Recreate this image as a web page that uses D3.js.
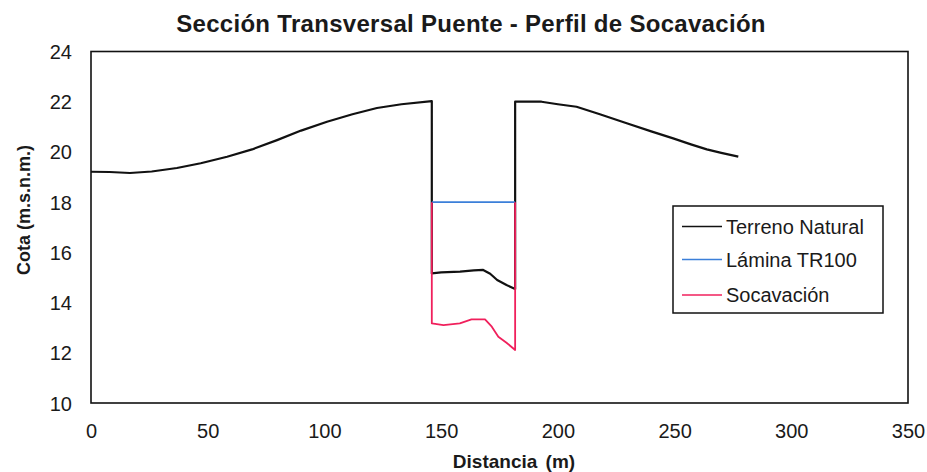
<!DOCTYPE html>
<html><head><meta charset="utf-8">
<script src="https://cdn.jsdelivr.net/npm/d3@7"></script>
<style>body{margin:0;background:#fff}svg{display:block}text{font-family:"Liberation Sans",Arial,sans-serif;fill:#1a1a1a}</style>
</head><body><svg id="c" width="927" height="472"></svg>
<script>
const xTicks = [0,50,100,150,200,250,300,350];
const yTicks = [10,12,14,16,18,20,22,24];
const terrenoX = [0,8,16.7,26,36.8,47,58.3,69,79.7,90,101.1,112,122.5,133,146,146,150,158.1,164,168,171,174,178,181.7,181.7,193,200,208,218,229.5,240,249.4,257,263.8,270,277.3];
const terrenoY = [19.21,19.2,19.16,19.22,19.36,19.55,19.81,20.1,20.47,20.85,21.2,21.5,21.75,21.9,22.02,15.16,15.2,15.23,15.28,15.3,15.15,14.9,14.7,14.54,22.0,22.0,21.9,21.8,21.5,21.14,20.82,20.54,20.3,20.1,19.96,19.81];
const laminaX = [146,181.7];
const laminaY = [18,18];
const socavX = [146,146,151,158,163,168.8,171.7,174.5,178,181.7,181.7];
const socavY = [18,13.17,13.1,13.17,13.33,13.33,13.04,12.64,12.4,12.11,18];
const seriesNames = ["Terreno Natural","Lámina TR100","Socavación"];
const seriesColors = ["#111111","#3b7fd9","#f0205c"];

const svg = d3.select("#c");
const L=91,R=908,T=51.5,B=403;
const x = d3.scaleLinear().domain([0,350]).range([L,R]);
const y = d3.scaleLinear().domain([10,24]).range([B,T]);

svg.append("text").attr("x",471).attr("y",32).attr("text-anchor","middle")
  .style("font-weight","bold").style("font-size","24px").style("letter-spacing","0.3px")
  .text("Sección Transversal Puente - Perfil de Socavación");

// axes (labels only)
const gx = svg.append("g").attr("transform",`translate(0,${B})`)
  .call(d3.axisBottom(x).tickValues(xTicks).tickSize(0).tickPadding(0));
gx.select(".domain").remove();
gx.selectAll("text").attr("y",34.5).attr("dy",null).style("font-size","20px").style("fill","#1a1a1a");
const gy = svg.append("g").attr("transform",`translate(${L},0)`)
  .call(d3.axisLeft(y).tickValues(yTicks).tickSize(0).tickPadding(0));
gy.select(".domain").remove();
gy.selectAll("text").attr("x",-19).attr("dy","0.35em").style("font-size","20px").style("fill","#1a1a1a");

svg.append("text").attr("x",514).attr("y",468).attr("text-anchor","middle")
  .style("font-weight","bold").style("font-size","19px").style("word-spacing","3px").text("Distancia (m)");
svg.append("text").attr("transform","translate(30,210) rotate(-90)").attr("text-anchor","middle")
  .style("font-weight","bold").style("font-size","18px").text("Cota (m.s.n.m.)");

const line = d3.line().x(d=>x(d[0])).y(d=>y(d[1]));
const zip = (a,b)=>a.map((v,i)=>[v,b[i]]);
svg.append("path").datum(zip(terrenoX,terrenoY)).attr("d",line).attr("fill","none")
  .attr("stroke",seriesColors[0]).attr("stroke-width",2.2).attr("stroke-linejoin","round");
svg.append("path").datum(zip(laminaX,laminaY)).attr("d",line).attr("fill","none")
  .attr("stroke",seriesColors[1]).attr("stroke-width",1.8);
svg.append("path").datum(zip(socavX,socavY)).attr("d",line).attr("fill","none")
  .attr("stroke",seriesColors[2]).attr("stroke-width",1.8).attr("stroke-linejoin","round");

svg.append("rect").attr("x",L).attr("y",T).attr("width",R-L).attr("height",B-T)
  .attr("fill","none").attr("stroke","#111").attr("stroke-width",1.6);

// legend
const lg = svg.append("g");
lg.append("rect").attr("x",673).attr("y",206).attr("width",210).attr("height",107)
  .attr("fill","#fff").attr("stroke","#111").attr("stroke-width",1.5);
const rows=[226.5,259.5,295];
seriesNames.forEach((n,i)=>{
  lg.append("line").attr("x1",682).attr("x2",722).attr("y1",rows[i]).attr("y2",rows[i])
    .attr("stroke",seriesColors[i]).attr("stroke-width",i===0?1.6:1.6);
  lg.append("text").attr("x",726).attr("y",rows[i]).attr("dy","0.35em").style("font-size","20px").text(n);
});
</script></body></html>
